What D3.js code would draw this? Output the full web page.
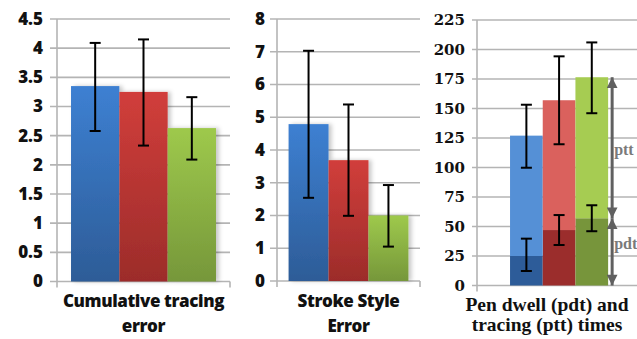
<!DOCTYPE html>
<html>
<head>
<meta charset="utf-8">
<script src="https://cdn.jsdelivr.net/npm/d3@7"></script>
<style>
  html, body { margin: 0; padding: 0; background: #fff; }
  svg { display: block; }
</style>
</head>
<body>
<svg id="chart" width="637" height="339"></svg>
<script>
// ---------- DATA ----------
const series = ["Condition 1", "Condition 2", "Condition 3"];

const cumCategory = ["Cumulative tracing", "error"];
const cumValues = [3.35, 3.25, 2.63];
const cumLow    = [2.58, 2.33, 2.09];
const cumHigh   = [4.09, 4.15, 3.16];
const cumTicks  = [0, 0.5, 1, 1.5, 2, 2.5, 3, 3.5, 4, 4.5];
const cumTickLabels = ["0", "0.5", "1", "1.5", "2", "2.5", "3", "3.5", "4", "4.5"];

const strokeCategory = ["Stroke Style", "Error"];
const strokeValues = [4.79, 3.69, 2.0];
const strokeLow    = [2.54, 1.99, 1.05];
const strokeHigh   = [7.03, 5.39, 2.93];
const strokeTicks  = [0, 1, 2, 3, 4, 5, 6, 7, 8];

const timeCategory = ["Pen dwell (pdt) and", "tracing (ptt) times"];
const pdtValues  = [25, 47, 57];
const pttValues  = [102, 110, 119.5];
const pdtLow     = [12.3, 34.3, 46];
const pdtHigh    = [39.7, 59.7, 68];
const totalLow   = [99.8, 119.7, 146];
const totalHigh  = [153.2, 194.2, 206];
const timeTicks  = [0, 25, 50, 75, 100, 125, 150, 175, 200, 225];
const annotLabels = ["ptt", "pdt"];

// ---------- STYLE ----------
const gradTop    = ["#3d80d2", "#d13e3b", "#9ec94c"];
const gradBottom = ["#2d5c97", "#9c2c2a", "#76973a"];
const pttColors  = ["#5590d6", "#da615d", "#a6cc52"];
const pdtColors  = ["#2d5c99", "#9b2d2c", "#77953b"];
const gridColor  = "#b4b4b4";

const svg = d3.select("#chart");
const defs = svg.append("defs");
series.forEach((s, i) => {
  const g = defs.append("linearGradient").attr("id", "grad" + i)
    .attr("x1", 0).attr("y1", 0).attr("x2", 0).attr("y2", 1);
  g.append("stop").attr("offset", "0%").attr("stop-color", gradTop[i]);
  g.append("stop").attr("offset", "100%").attr("stop-color", gradBottom[i]);
});
const f = defs.append("filter").attr("id", "shadow")
  .attr("x", "-20%").attr("y", "-5%").attr("width", "150%").attr("height", "110%");
f.append("feDropShadow").attr("dx", 3).attr("dy", 0).attr("stdDeviation", 2)
  .attr("flood-color", "#000").attr("flood-opacity", 0.22);

const arrowMarker = (id, orient) => {
  defs.append("marker").attr("id", id)
    .attr("viewBox", "0 0 10 10").attr("refX", 10).attr("refY", 5)
    .attr("markerWidth", 3.8).attr("markerHeight", 3.6).attr("markerUnits", "strokeWidth")
    .attr("orient", orient)
    .append("path").attr("d", "M0,0 L10,5 L0,10 Z").attr("fill", "#606060");
};
arrowMarker("arrowEnd", "auto");
arrowMarker("arrowStart", "auto-start-reverse");

function drawFrame(p) {
  const g = svg.append("g");
  g.selectAll("line.grid").data(p.ticks).join("line")
    .attr("x1", p.left - p.tick).attr("x2", p.gridRight)
    .attr("y1", d => p.y(d)).attr("y2", d => p.y(d))
    .attr("stroke", gridColor).attr("stroke-width", 1.6);
  g.append("line").attr("x1", p.left).attr("x2", p.left)
    .attr("y1", p.y(p.ticks[p.ticks.length - 1])).attr("y2", p.y(0) + 6)
    .attr("stroke", gridColor).attr("stroke-width", 1.6);
  if (p.endTick) {
    g.append("line").attr("x1", p.right).attr("x2", p.right)
      .attr("y1", p.y(0)).attr("y2", p.y(0) + 6)
      .attr("stroke", gridColor).attr("stroke-width", 1.6);
  }
  const ax = d3.axisLeft(p.y).tickValues(p.ticks).tickSize(0).tickPadding(p.pad)
    .tickFormat((d, i) => p.labels ? p.labels[i] : String(d));
  const axg = svg.append("g").attr("transform", `translate(${p.left},0)`).call(ax);
  axg.select(".domain").remove();
  axg.selectAll("text")
    .attr("font-family", p.font).attr("font-weight", p.weight || "bold")
    .attr("font-size", p.fontSize).attr("fill", "#111");
  const lab = svg.append("text").attr("text-anchor", "middle")
    .attr("font-family", p.xFont).attr("font-weight", p.weight || "bold")
    .attr("font-size", p.xFontSize).attr("fill", "#111")
    .attr("letter-spacing", p.xSpacing || 0);
  p.category.forEach((t, i) => {
    lab.append("tspan").attr("x", p.labelX).attr("y", p.labelY[i]).text(t);
  });
}

function errorBars(g, x, y, lows, highs, cap) {
  series.forEach((s, i) => {
    const cx = x(s) + x.bandwidth() / 2;
    const eg = g.append("g").attr("stroke", "#000").attr("stroke-width", 2);
    eg.append("line").attr("x1", cx).attr("x2", cx).attr("y1", y(lows[i])).attr("y2", y(highs[i]));
    eg.append("line").attr("x1", cx - cap / 2).attr("x2", cx + cap / 2).attr("y1", y(lows[i])).attr("y2", y(lows[i]));
    eg.append("line").attr("x1", cx - cap / 2).attr("x2", cx + cap / 2).attr("y1", y(highs[i])).attr("y2", y(highs[i]));
  });
}

function simplePanel(cfg) {
  const y = d3.scaleLinear().domain([0, cfg.ticks[cfg.ticks.length - 1]]).range([cfg.bottom, cfg.top]);
  const x = d3.scaleBand().domain(series).range([cfg.left, cfg.right]).paddingInner(0).paddingOuter(0.29);
  drawFrame({
    left: cfg.left, right: cfg.right, gridRight: cfg.right, tick: 7, y, ticks: cfg.ticks,
    labels: cfg.labels, pad: cfg.pad, font: "Open Sans", fontSize: 17, endTick: true, weight: 800,
    category: cfg.category, labelX: (cfg.left + cfg.right) / 2, labelY: [307, 332],
    xFont: "Open Sans", xFontSize: 17, xSpacing: -0.4
  });
  const g = svg.append("g");
  g.selectAll("rect").data(cfg.values).join("rect")
    .attr("x", (d, i) => x(series[i])).attr("width", x.bandwidth())
    .attr("y", d => y(d)).attr("height", d => y(0) - y(d))
    .attr("fill", (d, i) => `url(#grad${i})`)
    .attr("filter", "url(#shadow)");
  errorBars(g, x, y, cfg.low, cfg.high, 11);
}

simplePanel({ left: 57, right: 230, top: 19, bottom: 281.5, ticks: cumTicks, labels: cumTickLabels,
  pad: 14, category: cumCategory, values: cumValues, low: cumLow, high: cumHigh });
simplePanel({ left: 277, right: 420, top: 19, bottom: 281, ticks: strokeTicks, labels: null,
  pad: 12, category: strokeCategory, values: strokeValues, low: strokeLow, high: strokeHigh });

// ---------- Panel 3: stacked times ----------
(function () {
  const left = 477, right = 618, top = 20, bottom = 285.5;
  const y = d3.scaleLinear().domain([0, 225]).range([bottom, top]);
  const x = d3.scaleBand().domain(series).range([left, right]).paddingInner(0).paddingOuter(0.656).align(0.77);
  drawFrame({
    left, right, gridRight: 640, tick: 5, y, ticks: timeTicks, labels: null, pad: 12,
    font: "DejaVu Serif", fontSize: 15, endTick: false,
    category: timeCategory, labelX: 547, labelY: [310.5, 330.5],
    xFont: "Liberation Serif", xFontSize: 19.5
  });
  const stackData = series.map((s, i) => ({ s, i, pdt: pdtValues[i], ptt: pttValues[i] }));
  const stack = d3.stack().keys(["pdt", "ptt"])(stackData);
  const g = svg.append("g");
  stack.forEach(layer => {
    g.selectAll(null).data(layer).join("rect")
      .attr("x", d => x(d.data.s)).attr("width", x.bandwidth())
      .attr("y", d => y(d[1])).attr("height", d => y(d[0]) - y(d[1]))
      .attr("fill", d => layer.key === "pdt" ? pdtColors[d.data.i] : pttColors[d.data.i]);
  });
  errorBars(g, x, y, pdtLow, pdtHigh, 11);
  errorBars(g, x, y, totalLow, totalHigh, 11);

  const last = series.length - 1;
  const ax = x(series[last]) + x.bandwidth() + 4;
  const total = pdtValues[last] + pttValues[last];
  const a = svg.append("g").attr("stroke", "#606060").attr("stroke-width", 3).attr("fill", "none");
  a.append("line").attr("x1", ax).attr("x2", ax).attr("y1", y(total)).attr("y2", y(pdtValues[last]))
    .attr("marker-start", "url(#arrowStart)").attr("marker-end", "url(#arrowEnd)");
  a.append("line").attr("x1", ax).attr("x2", ax).attr("y1", y(pdtValues[last])).attr("y2", y(0))
    .attr("marker-start", "url(#arrowStart)").attr("marker-end", "url(#arrowEnd)");
  const tg = svg.append("g").attr("font-family", "Liberation Serif").attr("font-weight", "bold")
    .attr("font-size", 16).attr("fill", "#7a7a7a");
  tg.append("text").attr("x", ax + 2).attr("y", (y(total) + y(pdtValues[last])) / 2 + 7).text(annotLabels[0]);
  tg.append("text").attr("x", ax + 2).attr("y", (y(pdtValues[last]) + y(0)) / 2 - 3).text(annotLabels[1]);
})();
</script>
</body>
</html>
